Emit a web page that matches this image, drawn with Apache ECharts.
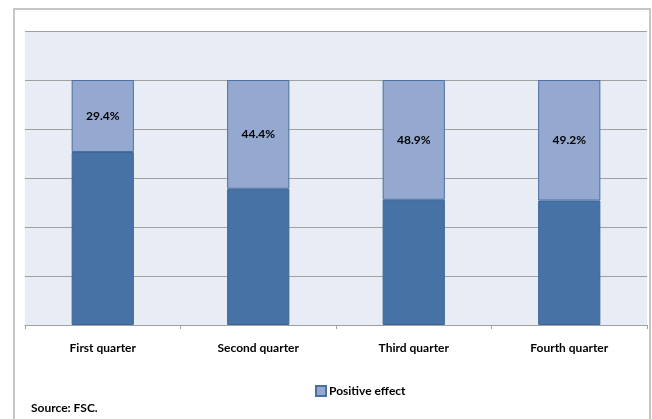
<!DOCTYPE html>
<html>
<head>
<meta charset="utf-8">
<script src="https://cdn.jsdelivr.net/npm/echarts@6/dist/echarts.min.js"></script>
<style>
  html, body { margin: 0; padding: 0; background: #ffffff; }
  #chart { width: 652px; height: 419px; }
</style>
</head>
<body>
<div id="chart"></div>
<script>
// Quarterly shares (%): positive effect stacked on top of the remainder
const categories = ['First quarter', 'Second quarter', 'Third quarter', 'Fourth quarter'];
const positiveEffect = [29.4, 44.4, 48.9, 49.2];
const otherEffect = [70.6, 55.6, 51.1, 50.8];

const FONT = 'Lato, "Open Sans", "Liberation Sans", sans-serif';

const chart = echarts.init(document.getElementById('chart'), null, { renderer: 'canvas' });

chart.setOption({
  animation: false,
  backgroundColor: '#ffffff',
  graphic: [
    {
      type: 'rect',
      shape: { x: 14, y: 9, width: 636, height: 430 },
      style: { fill: 'none', stroke: '#b4b4b4', lineWidth: 1.5 },
      silent: true,
      z: -1
    },
    {
      type: 'text',
      left: 31,
      top: 402,
      style: { text: 'Source: FSC.', font: 'bold 12px ' + FONT, fill: '#000000' }
    }
  ],
  grid: {
    left: 25,
    right: 5,
    top: 31,
    bottom: 94,
    show: true,
    backgroundColor: '#e8ecf4',
    borderWidth: 0
  },
  legend: {
    data: ['Positive effect'],
    left: 315,
    top: 385,
    padding: 0,
    itemWidth: 10,
    itemHeight: 10,
    itemGap: 4,
    icon: 'rect',
    textStyle: { fontFamily: FONT, fontWeight: 'bold', fontSize: 12, color: '#000000', padding: [0, 0, 0, -2] }
  },
  xAxis: {
    type: 'category',
    data: categories,
    axisLine: { show: true, lineStyle: { color: '#a0a0a0', width: 1 } },
    axisTick: { show: true, alignWithLabel: false, length: 4, lineStyle: { color: '#a0a0a0' } },
    axisLabel: { fontFamily: FONT, fontWeight: 'bold', fontSize: 12, color: '#000000', margin: 17 }
  },
  yAxis: {
    type: 'value',
    min: 0,
    max: 120,
    interval: 20,
    axisLine: { show: false },
    axisTick: { show: false },
    axisLabel: { show: false },
    splitLine: { show: true, lineStyle: { color: '#a0a0a0', width: 1.2 } }
  },
  series: [
    {
      name: 'Other effect',
      type: 'bar',
      stack: 'total',
      barWidth: '40%',
      data: otherEffect,
      itemStyle: { color: '#4672a6', borderColor: '#3e6695', borderWidth: 1 }
    },
    {
      name: 'Positive effect',
      type: 'bar',
      stack: 'total',
      barWidth: '40%',
      data: positiveEffect,
      itemStyle: { color: '#95a9d0', borderColor: '#4a6fa2', borderWidth: 1 },
      label: {
        show: true,
        position: 'inside',
        formatter: p => p.value.toFixed(1) + '%',
        fontFamily: FONT,
        fontWeight: 'bold',
        fontSize: 12,
        color: '#000000'
      }
    }
  ]
});
</script>
</body>
</html>
